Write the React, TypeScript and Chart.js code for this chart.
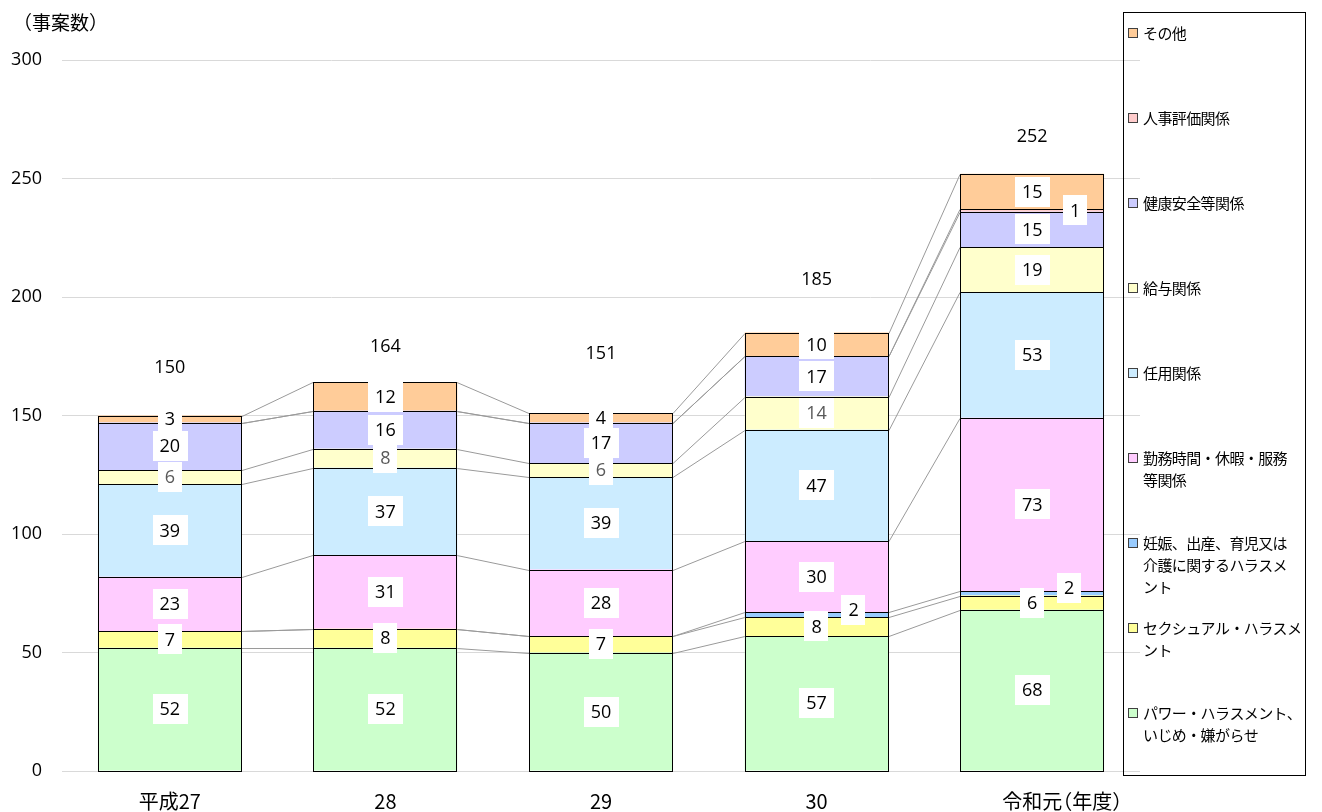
import React, { useEffect, useRef } from "react";
import { Chart, registerables } from "chart.js";

Chart.register(...registerables);

// ---- data ----
const categories = ["平成27", "28", "29", "30", "令和元"];
const categorySuffix = "（年度）";
const yAxisTitle = "（事案数）";

const powerHarassment = [52, 52, 50, 57, 68];
const sexualHarassment = [7, 8, 7, 8, 6];
const maternityHarassment = [0, 0, 0, 2, 2];
const workHours = [23, 31, 28, 30, 73];
const appointment = [39, 37, 39, 47, 53];
const salary = [6, 8, 6, 14, 19];
const healthSafety = [20, 16, 17, 17, 15];
const personnelEval = [0, 0, 0, 0, 1];
const others = [3, 12, 4, 10, 15];
const totals = [150, 164, 151, 185, 252];

const nameLines = [
  ["パワー・ハラスメント、", "いじめ・嫌がらせ"],
  ["セクシュアル・ハラスメ", "ント"],
  ["妊娠、出産、育児又は", "介護に関するハラスメ", "ント"],
  ["勤務時間・休暇・服務", "等関係"],
  ["任用関係"],
  ["給与関係"],
  ["健康安全等関係"],
  ["人事評価関係"],
  ["その他"],
];

// ---- styles ----
const seriesValues = [
  powerHarassment,
  sexualHarassment,
  maternityHarassment,
  workHours,
  appointment,
  salary,
  healthSafety,
  personnelEval,
  others,
];
const seriesColors = [
  "#CCFFCC",
  "#FFFF99",
  "#99CCFF",
  "#FFCCFF",
  "#CCECFF",
  "#FFFFCC",
  "#CCCCFF",
  "#FFCCCC",
  "#FFCC99",
];
const GRAY_TXT = "#595959";
const labelColors: (string | string[])[] = [
  "#000",
  "#000",
  "#000",
  "#000",
  "#000",
  [GRAY_TXT, GRAY_TXT, GRAY_TXT, GRAY_TXT, "#000"],
  "#000",
  "#000",
  "#000",
];
const labelOffsets: [number, number][] = [
  [0, 0],
  [0, 0],
  [37, -5],
  [0, 0],
  [0, 0],
  [0, 0],
  [0, 0],
  [43, 0],
  [0, 0],
];
const totalOffsets = [48, 35, 59, 53, 37];

const NUM_FONT = '18px "Open Sans", "Noto Sans", sans-serif';
const JP_FONT = '"Noto Sans CJK JP", "Noto Sans", sans-serif';

const seriesLinesPlugin = {
  id: "seriesLines",
  beforeDatasetsDraw(chart: any) {
    const ctx = chart.ctx;
    ctx.save();
    ctx.strokeStyle = "#9A9A9A";
    ctx.lineWidth = 1;
    chart.data.datasets.forEach((_: any, di: number) => {
      const meta = chart.getDatasetMeta(di);
      for (let i = 0; i < meta.data.length - 1; i++) {
        const a = meta.data[i];
        const b = meta.data[i + 1];
        ctx.beginPath();
        ctx.moveTo(Math.round(a.x + a.width / 2), Math.round(a.y) + 0.5);
        ctx.lineTo(Math.round(b.x - b.width / 2), Math.round(b.y) + 0.5);
        ctx.stroke();
      }
    });
    ctx.restore();
  },
};

const labelsPlugin = {
  id: "segLabels",
  afterDatasetsDraw(chart: any) {
    const ctx = chart.ctx;
    ctx.save();
    // crisp outlines for every segment
    ctx.strokeStyle = "#000";
    ctx.lineWidth = 1;
    chart.data.datasets.forEach((_: any, di: number) => {
      const meta = chart.getDatasetMeta(di);
      meta.data.forEach((el: any) => {
        const l = Math.round(el.x - el.width / 2);
        const r = Math.round(el.x + el.width / 2);
        const t = Math.round(el.y);
        const b = Math.round(el.base);
        ctx.strokeRect(l + 0.5, t + 0.5, r - l - 1, b - t);
      });
    });

    ctx.font = NUM_FONT;
    ctx.textAlign = "center";
    ctx.textBaseline = "middle";
    chart.data.datasets.forEach((ds: any, di: number) => {
      const meta = chart.getDatasetMeta(di);
      meta.data.forEach((el: any, i: number) => {
        const v = ds.data[i];
        if (!v) return;
        const [ox, oy] = labelOffsets[di];
        const cx = el.x + ox;
        const cy = (el.y + el.base) / 2 + oy;
        const txt = String(v);
        const w = ctx.measureText(txt).width + 14;
        const h = 30;
        ctx.fillStyle = "#FFFFFF";
        ctx.fillRect(Math.round(cx - w / 2), Math.round(cy - h / 2), Math.round(w), h);
        const c = labelColors[di];
        ctx.fillStyle = Array.isArray(c) ? c[i] : c;
        ctx.fillText(txt, cx, cy + 1);
      });
    });
    // totals above each bar
    const lastMeta = chart.getDatasetMeta(chart.data.datasets.length - 1);
    ctx.fillStyle = "#000";
    lastMeta.data.forEach((el: any, i: number) => {
      ctx.fillText(String(totals[i]), el.x, el.y - totalOffsets[i]);
    });
    ctx.restore();
  },
};

const decorPlugin = {
  id: "decor",
  afterDraw(chart: any) {
    const ctx = chart.ctx;
    ctx.save();
    // y-axis title
    ctx.fillStyle = "#000";
    ctx.font = "19px " + JP_FONT;
    ctx.textAlign = "left";
    ctx.textBaseline = "middle";
    ctx.fillText(yAxisTitle, 13, 23);

    // suffix after last category
    const xs = chart.scales.x;
    ctx.font = "20px " + JP_FONT;
    const lastIdx = categories.length - 1;
    const lw = ctx.measureText(categories[lastIdx]).width;
    const lx = xs.getPixelForValue(lastIdx) + lw / 2 - 10;
    ctx.fillText(categorySuffix, lx, 801);

    // legend box
    const L = 1123, T = 12, R = 1305, B = 775;
    ctx.strokeStyle = "#000";
    ctx.lineWidth = 1;
    ctx.strokeRect(L + 0.5, T + 0.5, R - L, B - T);
    ctx.font = "15px " + JP_FONT;
    try {
      (ctx as any).letterSpacing = "-0.6px";
    } catch (e) {}
    const n = chart.data.datasets.length;
    for (let k = 0; k < n; k++) {
      const di = n - 1 - k;
      const y0 = 33 + k * 85;
      ctx.fillStyle = seriesColors[di];
      ctx.fillRect(1128, y0 - 5, 10, 10);
      ctx.strokeStyle = "#404040";
      ctx.strokeRect(1128.5, y0 - 4.5, 9, 9);
      ctx.fillStyle = "#000";
      nameLines[di].forEach((line, li) => {
        ctx.fillText(line, 1143, y0 + li * 22);
      });
    }
    ctx.restore();
  },
};

export default function App() {
  const ref = useRef<HTMLCanvasElement | null>(null);
  useEffect(() => {
    document.body.style.margin = "0";
    document.body.style.overflow = "hidden";
    document.documentElement.style.overflow = "hidden";
    const canvas = ref.current!;
    const chart = new Chart(canvas, {
      type: "bar",
      data: {
        labels: categories,
        datasets: seriesValues.map((vals, i) => ({
          label: nameLines[i].join(""),
          data: vals,
          backgroundColor: seriesColors[i],
          borderWidth: 0,
          categoryPercentage: 1,
          barPercentage: 0.667,
        })),
      },
      options: {
        animation: false,
        responsive: false,
        devicePixelRatio: 1,
        layout: { padding: { left: 0, right: 182, top: 60, bottom: 0 } },
        plugins: {
          legend: { display: false },
          tooltip: { enabled: false },
          title: { display: false },
        },
        scales: {
          x: {
            stacked: true,
            grid: { display: false, drawTicks: false },
            border: { display: false },
            ticks: {
              color: "#000",
              font: { family: '"Noto Sans CJK JP", "Open Sans", sans-serif', size: 20 },
              padding: 18,
              maxRotation: 0,
            },
            afterFit: (s: any) => {
              s.height = 41;
            },
          },
          y: {
            stacked: true,
            min: 0,
            max: 300,
            grid: { color: "#D9D9D9", drawTicks: false, lineWidth: 1 },
            border: { display: false },
            ticks: {
              stepSize: 50,
              color: "#000",
              font: { family: '"Open Sans", "Noto Sans", sans-serif', size: 18 },
              padding: 20,
            },
            afterFit: (s: any) => {
              s.width = 62;
            },
          },
        },
      },
      plugins: [seriesLinesPlugin, labelsPlugin, decorPlugin],
    });
    return () => chart.destroy();
  }, []);
  return (
    <div style={{ width: 1322, height: 812, position: "relative", background: "#fff", overflow: "hidden" }}>
      <canvas ref={ref} width={1322} height={812} style={{ display: "block" }} />
    </div>
  );
}
